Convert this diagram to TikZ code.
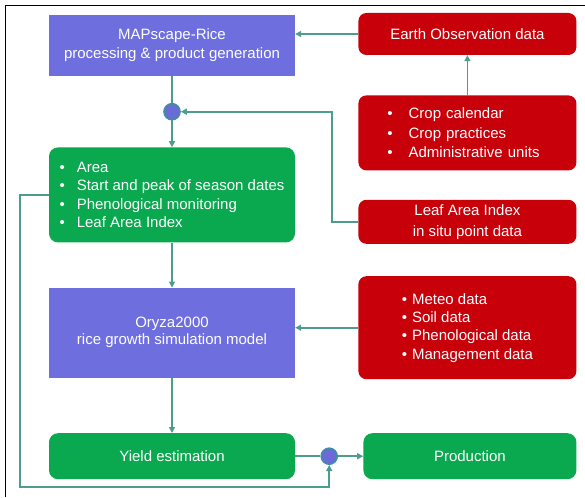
\documentclass[tikz,border=0pt]{standalone}
\usepackage{fontspec}
\setmainfont{Liberation Sans}
\usepackage{tikz}
\usetikzlibrary{positioning,arrows.meta,calc}
\definecolor{cproc}{HTML}{6E6EDE}
\definecolor{cred}{HTML}{C8000A}
\definecolor{cgreen}{HTML}{0AA84F}
\definecolor{cteal}{HTML}{4E9C8E}
\definecolor{cjn}{HTML}{6A6AD8}
\definecolor{cjnb}{HTML}{3E8FA0}
\newcommand{\itm}[1][12pt]{\textbullet\hspace{#1}}
\tikzset{
 proc/.style={rectangle, fill=cproc, text=white, align=center, inner sep=4pt,
 minimum width=246pt, font=\fontsize{15}{19}\selectfont},
 grn/.style={rectangle, rounded corners=9pt, fill=cgreen, text=white, align=left,
 inner sep=4pt, minimum width=246pt, font=\fontsize{15}{18.5}\selectfont},
 dat/.style={rectangle, rounded corners=8pt, fill=cred, text=white, align=center,
 inner sep=4pt, minimum width=218pt, font=\fontsize{15}{19}\selectfont},
 jn/.style={circle, fill=cjn, draw=cjnb, line width=1.6pt, minimum size=16pt, inner sep=0pt},
 fl/.style={-{Triangle[length=6pt,width=6pt]}, draw=cteal, line width=1.7pt},
 ln/.style={draw=cteal, line width=1.7pt},
}
\begin{document}
\begin{tikzpicture}
 \useasboundingbox (0,0) rectangle (585pt,-497pt);
 \draw[black, line width=1pt] (5pt,-497pt) -- (5pt,-6pt) -- (585pt,-6pt);
 % left column
 \node[proc, minimum height=61pt] (map) at (172pt,-45.5pt) {MAPscape-Rice\\processing \& product generation};
 \node[grn, minimum height=95pt, below=71pt of map] (area)
 {\itm Area\\\itm Start and peak of season dates\\\itm Phenological monitoring\\\itm Leaf Area Index};
 \node[proc, minimum height=90pt, below=45pt of area, font=\fontsize{15}{17}\selectfont] (ory) {Oryza2000\\rice growth simulation model};
 \node[grn, minimum height=46pt, below=55pt of ory] (yld) {Yield estimation};
 % right column
 \node[dat, minimum height=42pt, right=63pt of map, yshift=11.5pt] (eo) {Earth Observation data};
 \node[dat, minimum height=75pt, below=40pt of eo, align=left, text width=160pt, inner xsep=29pt,
 font=\fontsize{15}{19.5}\selectfont] (cal)
 {\itm[16pt]Crop calendar\\\itm[16pt]Crop practices\\\itm[16pt]Administrative units};
 \node[dat, minimum height=44pt, below=29pt of cal, font=\fontsize{15}{21}\selectfont] (lai) {Leaf Area Index\\in situ point data};
 \node[dat, minimum height=103pt, below=32pt of lai, align=left, font=\fontsize{15}{18.3}\selectfont] (met)
 {\itm[5pt]Meteo data\\\itm[5pt]Soil data\\\itm[5pt]Phenological data\\\itm[5pt]Management data};
 \node[grn, minimum height=46pt, minimum width=213pt, align=center, right=68pt of yld] (prod) {Production};
 % junctions
 \node[jn] (j1) at ($(map.south)!0.5!(area.north)$) {};
 \node[jn] (j2) at ($(yld.east)!0.5!(prod.west)$) {};

 \draw[fl] (eo.west) -- (eo.west -| map.east);
 \draw[fl] (cal) -- (eo);
 \draw[ln] (map) -- (j1); \draw[fl] (j1) -- (area);
 \draw[fl] (lai.west) -- ++(-26pt,0) |- (j1);
 \draw[fl] (area) -- (ory);
 \draw[fl] (met.west) -- (met.west -| ory.east);
 \draw[fl] (ory) -- (yld);
 \draw[ln] (yld) -- (j2); \draw[fl] (j2) -- (prod);
 \draw[fl] (area.west) -| ++(-29pt,-292pt) -| (j2.south);
\end{tikzpicture}
\end{document}
